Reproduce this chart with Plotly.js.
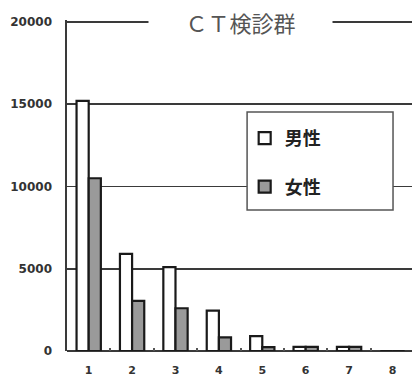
<!DOCTYPE html>
<html><head><meta charset="utf-8">
<script src="https://cdn.plot.ly/plotly-3.0.1.min.js"></script>
<style>html,body{margin:0;padding:0;background:#fff;}</style>
</head><body>
<div id="chart" style="width:412px;height:379px;"></div>
<script>
const categories = [1, 2, 3, 4, 5, 6, 7, 8];
const tickLabels = ["1", "2", "3", "4", "5", "6", "7", "8"];
const maleValues = [15200, 5900, 5100, 2450, 900, 250, 250, 0];
const femaleValues = [10500, 3050, 2600, 830, 230, 250, 250, 0];
const seriesNames = ["男性", "女性"];
const chartTitle = "ＣＴ検診群";
const yTicks = [0, 5000, 10000, 15000, 20000];

const traces = [
  {type: 'bar', x: categories, y: maleValues, name: seriesNames[0], legendgroup: 'm',
   marker: {color: '#ffffff', line: {color: '#1a1a1a', width: 2.2}}},
  {type: 'bar', x: categories, y: femaleValues, name: seriesNames[1], legendgroup: 'f',
   marker: {color: '#9a9a9a', line: {color: '#1a1a1a', width: 2.2}}}
];

const layout = {
  width: 412, height: 379,
  margin: {l: 67, r: 0, t: 20, b: 28},
  paper_bgcolor: '#ffffff', plot_bgcolor: '#ffffff',
  barmode: 'group', bargap: 0.44, bargroupgap: 0,
  showlegend: true,
  legend: {x: 0.515, y: 0.698, xanchor: 'left', yanchor: 'top',
    bgcolor: 'rgba(0,0,0,0)', borderwidth: 0,
    font: {family: 'Noto Sans CJK JP', size: 18, color: '#222222', weight: 'bold'},
    itemwidth: 30, tracegroupgap: 22},
  xaxis: {range: [0.5, 8.45], tickvals: categories, ticktext: tickLabels,
    showgrid: false, zeroline: false, showline: false, ticks: '',
    ticklabelstandoff: 11,
    minor: {tickvals: categories.map(c => c + 0.5), ticks: 'inside', ticklen: 3,
            tickwidth: 2, tickcolor: '#555555'},
    tickfont: {family: 'DejaVu Sans', size: 11, color: '#333333', weight: 'bold'},
    fixedrange: true},
  yaxis: {range: [0, 20120], tickvals: yTicks, ticktext: yTicks.map(String),
    showgrid: true, gridcolor: '#3a3a3a', gridwidth: 1.6,
    zeroline: true, zerolinecolor: '#3a3a3a', zerolinewidth: 1.6,
    showline: true, linecolor: '#3a3a3a', linewidth: 1.6,
    ticks: '', ticklabelstandoff: 11,
    tickfont: {family: 'DejaVu Sans', size: 12, color: '#333333', weight: 'bold'},
    fixedrange: true},
  shapes: [{type: 'rect', xref: 'paper', yref: 'y', x0: 0.522, x1: 0.945, y0: 8571, y1: 14529,
    fillcolor: '#ffffff', line: {color: '#555555', width: 1.5}, layer: 'above'}],
  annotations: [{text: chartTitle, x: 240, y: 20000, xref: 'x', yref: 'y',
    xanchor: 'center', yanchor: 'middle', showarrow: false, bgcolor: '#ffffff',
    width: 183, height: 26, borderpad: 0,
    font: {family: 'Noto Sans CJK JP', size: 22, color: '#555555'}}]
};
// title centre given in pixels -> convert to data x
const plotW = 412 - 67;
layout.annotations[0].x = 0.5 + (240 - 67) / plotW * (8.45 - 0.5);

Plotly.newPlot('chart', traces, layout, {displayModeBar: false, staticPlot: true});
</script>
</body></html>
